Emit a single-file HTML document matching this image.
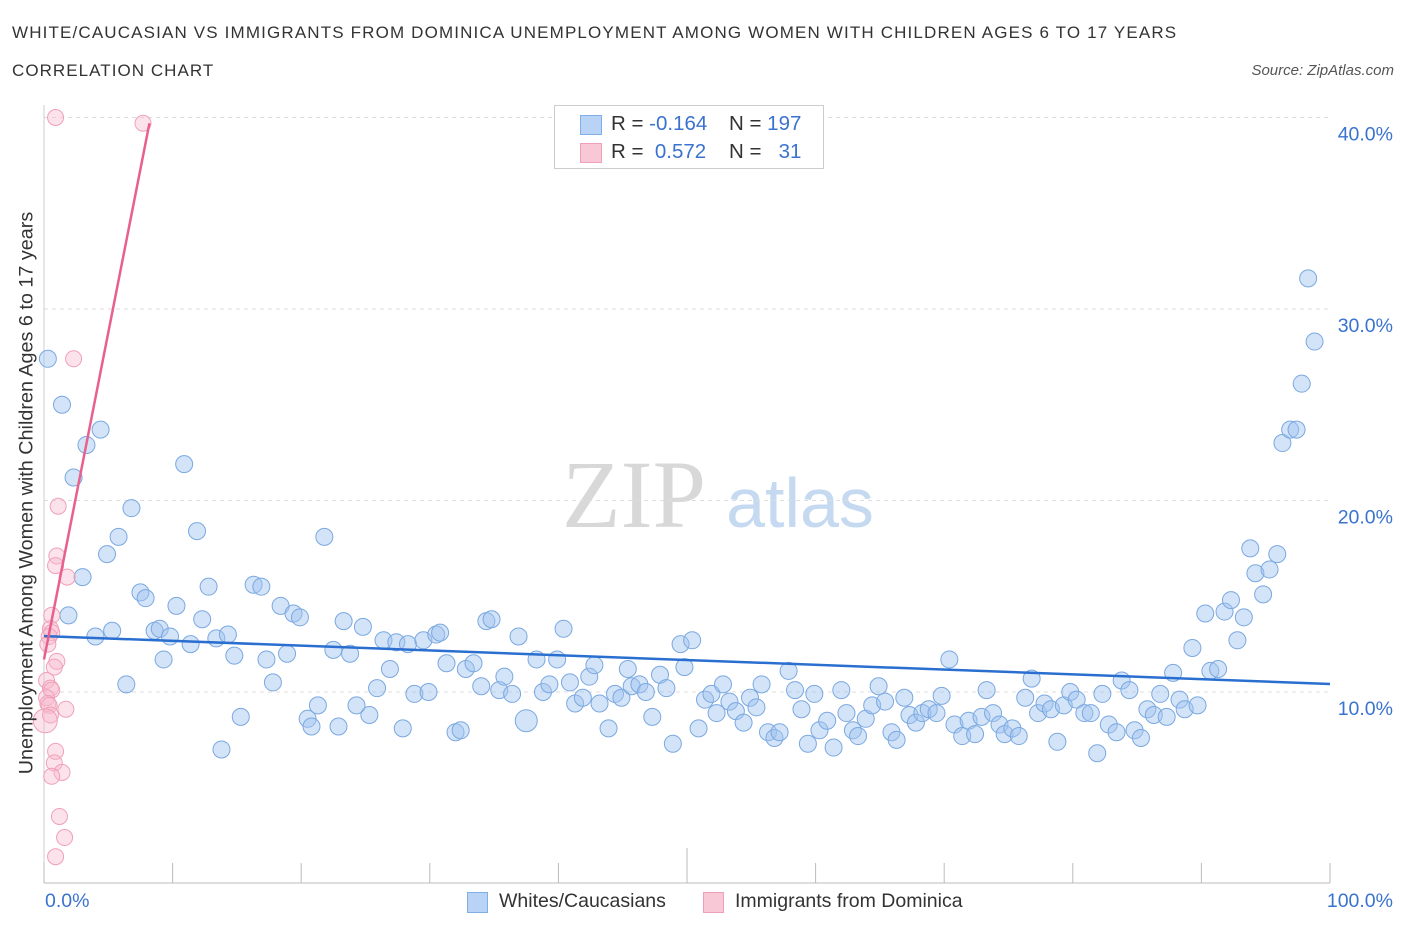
<!DOCTYPE html>
<html><head><meta charset="utf-8"><style>
body{margin:0;background:#fff;font-family:"Liberation Sans",sans-serif;}
#wrap{position:relative;width:1406px;height:930px;overflow:hidden;}
.t{position:absolute;white-space:nowrap;}
</style></head><body>
<div id="wrap">
<div class="t" style="left:12px;top:23px;font-size:17px;letter-spacing:1.15px;color:#333;">WHITE/CAUCASIAN VS IMMIGRANTS FROM DOMINICA UNEMPLOYMENT AMONG WOMEN WITH CHILDREN AGES 6 TO 17 YEARS</div>
<div class="t" style="left:12px;top:61px;font-size:17px;letter-spacing:1.05px;color:#333;">CORRELATION CHART</div>
<div class="t" style="right:12px;top:62px;font-size:15px;color:#555;font-style:italic;">Source: ZipAtlas.com</div>
<svg id="svg" width="1406" height="930" style="position:absolute;left:0;top:0">
<text x="634" y="527" font-family="Liberation Serif,serif" font-size="96" fill="#d8d8d8" text-anchor="middle">ZIP</text>
<text x="800" y="527" font-family="Liberation Sans,sans-serif" font-size="70" fill="#c5d9f0" text-anchor="middle">atlas</text>
</svg>
<div class="t" style="left:27px;top:493px;transform:translate(-50%,-50%) rotate(-90deg);font-size:19.8px;color:#333;">Unemployment Among Women with Children Ages 6 to 17 years</div>
<div style="position:absolute;left:554px;top:105px;width:268px;height:62px;border:1px solid #ccc;background:#fff;">
<div style="position:absolute;left:25px;top:9px;width:20px;height:18px;background:#b8d3f5;border:1px solid #80aee6;"></div>
<div class="t" style="left:56px;top:6px;font-size:20.5px;color:#333;">R = <span style="color:#3a73cf">-0.164</span></div>
<div class="t" style="left:174px;top:6px;font-size:20.5px;color:#333;">N = <span style="color:#3a73cf">197</span></div>
<div class="t" style="left:25px;top:37px;width:20px;height:18px;background:#f9c8d6;border:1px solid #eda0b8;"></div>
<div class="t" style="left:56px;top:34px;font-size:20.5px;color:#333;">R = &nbsp;<span style="color:#3a73cf">0.572</span></div>
<div class="t" style="left:174px;top:34px;font-size:20.5px;color:#333;">N = &nbsp;&nbsp;<span style="color:#3a73cf">31</span></div>
</div>
<div class="t" style="left:45px;top:890px;font-size:19.5px;color:#3a73cf;">0.0%</div>
<div class="t" style="right:13px;top:890px;font-size:19.5px;color:#3a73cf;">100.0%</div>
<div style="position:absolute;left:467px;top:892px;width:19px;height:19px;background:#b8d3f5;border:1px solid #80aee6;"></div>
<div class="t" style="left:499px;top:890px;font-size:19.5px;color:#333;">Whites/Caucasians</div>
<div style="position:absolute;left:703px;top:892px;width:19px;height:19px;background:#f9c8d6;border:1px solid #eda0b8;"></div>
<div class="t" style="left:735px;top:890px;font-size:19.5px;color:#333;">Immigrants from Dominica</div>
</div>
<script>
const yTicks=[10,20,30,40];
const yTickLabels=["10.0%","20.0%","30.0%","40.0%"];
const xTicks=[0,10,20,30,40,50,60,70,80,90,100];
const blueX=[0.3,1.4,4.4,3.3,2.3,6.8,10.9,11.9,5.8,4.9,21.8,3.0,7.5,7.9,1.9,4.0,5.3,8.6,9.0,9.8,10.3,11.4,12.3,12.8,13.4,14.3,14.8,9.3,6.4,15.3,13.8,16.3,16.9,17.3,17.8,18.4,18.9,19.4,19.9,20.5,20.8,21.3,22.9,22.5,23.3,23.8,24.8,25.3,24.3,25.9,26.4,26.9,27.4,27.9,28.3,28.8,29.5,29.9,30.5,30.8,31.3,32.0,32.4,32.8,33.4,34.0,34.4,34.8,35.4,35.8,36.4,36.9,37.5,38.3,38.8,39.3,39.9,40.4,40.9,41.3,41.9,42.4,42.8,43.2,43.9,44.4,44.9,45.4,45.7,46.3,46.8,47.3,47.9,48.4,48.9,49.5,49.8,50.4,50.9,51.4,51.9,52.3,52.8,53.3,53.8,54.4,54.9,55.4,55.8,56.3,56.8,57.2,57.9,58.4,58.9,59.4,59.9,60.3,60.9,61.4,62.0,62.4,62.9,63.3,63.9,64.4,64.9,65.4,65.9,66.3,66.9,67.3,67.8,68.3,68.8,69.4,69.8,70.4,70.8,71.4,71.9,72.4,72.9,73.3,73.8,74.3,74.7,75.3,75.8,76.3,76.8,77.3,77.8,78.3,78.8,79.3,79.8,80.3,80.9,81.4,81.9,82.3,82.8,83.4,83.8,84.4,84.8,85.3,85.8,86.3,86.8,87.3,87.8,88.3,88.7,89.3,89.7,90.3,90.7,91.3,91.8,92.3,92.8,93.3,93.8,94.2,94.8,95.3,95.9,96.3,96.9,97.4,97.8,98.3,98.8];
const blueY=[27.4,25.0,23.7,22.9,21.2,19.6,21.9,18.4,18.1,17.2,18.1,16.0,15.2,14.9,14.0,12.9,13.2,13.2,13.3,12.9,14.5,12.5,13.8,15.5,12.8,13.0,11.9,11.7,10.4,8.7,7.0,15.6,15.5,11.7,10.5,14.5,12.0,14.1,13.9,8.6,8.2,9.3,8.2,12.2,13.7,12.0,13.4,8.8,9.3,10.2,12.7,11.2,12.6,8.1,12.5,9.9,12.7,10.0,13.0,13.1,11.5,7.9,8.0,11.2,11.5,10.3,13.7,13.8,10.1,10.8,9.9,12.9,8.5,11.7,10.0,10.4,11.7,13.3,10.5,9.4,9.7,10.8,11.4,9.4,8.1,9.9,9.7,11.2,10.3,10.4,10.0,8.7,10.9,10.2,7.3,12.5,11.3,12.7,8.1,9.6,9.9,8.9,10.4,9.5,9.0,8.4,9.7,9.2,10.4,7.9,7.6,7.9,11.1,10.1,9.1,7.3,9.9,8.0,8.5,7.1,10.1,8.9,8.0,7.7,8.6,9.3,10.3,9.5,7.9,7.5,9.7,8.8,8.4,8.9,9.1,8.9,9.8,11.7,8.3,7.7,8.5,7.8,8.7,10.1,8.9,8.3,7.8,8.1,7.7,9.7,10.7,8.9,9.4,9.1,7.4,9.3,10.0,9.6,8.9,8.9,6.8,9.9,8.3,7.9,10.6,10.1,8.0,7.6,9.1,8.8,9.9,8.7,11.0,9.6,9.1,12.3,9.3,14.1,11.1,11.2,14.2,14.8,12.7,13.9,17.5,16.2,15.1,16.4,17.2,23.0,23.7,23.7,26.1,31.6,28.3];
const blueBigIdx=[72];
const pinkX=[0.9,7.7,2.3,1.1,1.0,0.9,1.8,0.6,0.5,0.6,0.4,0.3,1.0,0.8,0.2,0.5,0.6,0.2,0.3,0.4,1.7,0.5,0.1,0.9,0.8,1.4,0.6,1.2,1.6,0.9];
const pinkY=[40.0,39.7,27.4,19.7,17.1,16.6,16.0,14.0,13.3,13.1,12.9,12.5,11.6,11.3,10.6,10.2,10.1,9.7,9.4,9.3,9.1,8.8,8.5,6.9,6.3,5.8,5.6,3.5,2.4,1.4];
const pinkBigIdx=[22];
const blueTrend=[12.92,10.42];
const pinkTrend=[11.7,39.7], pinkTrendXEnd=8.2;

const X0=44,X1=1330,Y0=883.5,PXY=19.15;
const sx=v=>X0+(X1-X0)*v/100, sy=v=>Y0-v*PXY;
const svg=document.getElementById('svg'),NS='http://www.w3.org/2000/svg';
function mk(t,a){const e=document.createElementNS(NS,t);for(const k in a)e.setAttribute(k,a[k]);svg.appendChild(e);return e;}
yTicks.forEach((v,i)=>{
 const g=mk('line',{x1:X0,x2:X1,y1:sy(v),y2:sy(v),stroke:'#ddd','stroke-dasharray':'4,4'});
 
 
 const t=mk('text',{x:1393,y:sy(v)+23,'text-anchor':'end','font-size':19.5,fill:'#3a73cf','font-family':'Liberation Sans,sans-serif'});
 t.textContent=yTickLabels[i];
 
 
});
const ax=mk('line',{x1:X0,x2:X1,y1:883,y2:883,stroke:'#bbb'});


const ay=mk('line',{x1:X0,x2:X0,y1:105,y2:883,stroke:'#ccc'});


xTicks.forEach(v=>{
 const l=mk('line',{x1:sx(v),x2:sx(v),y1:883,y2:v==50?848:863,stroke:'#bbb'});
 
 
});
blueX.forEach((x,i)=>{
 const c=mk('circle',{cx:sx(x),cy:sy(blueY[i]),r:blueBigIdx.includes(i)?11:8.5,fill:'rgba(160,196,240,0.45)',stroke:'#7aa8e0','stroke-width':1});
 
 
});
pinkX.forEach((x,i)=>{
 const c=mk('circle',{cx:sx(x),cy:sy(pinkY[i]),r:pinkBigIdx.includes(i)?12:8,fill:'rgba(248,185,205,0.4)',stroke:'#f0a0b8','stroke-width':1});
 
 
});
const bt=mk('line',{x1:sx(0),x2:sx(100),y1:sy(blueTrend[0]),y2:sy(blueTrend[1]),stroke:'#2a6fd0','stroke-width':2.5});


const pt=mk('line',{x1:sx(0),x2:sx(pinkTrendXEnd),y1:sy(pinkTrend[0]),y2:sy(pinkTrend[1]),stroke:'#e8608e','stroke-width':2.5});


</script>
</body></html>
